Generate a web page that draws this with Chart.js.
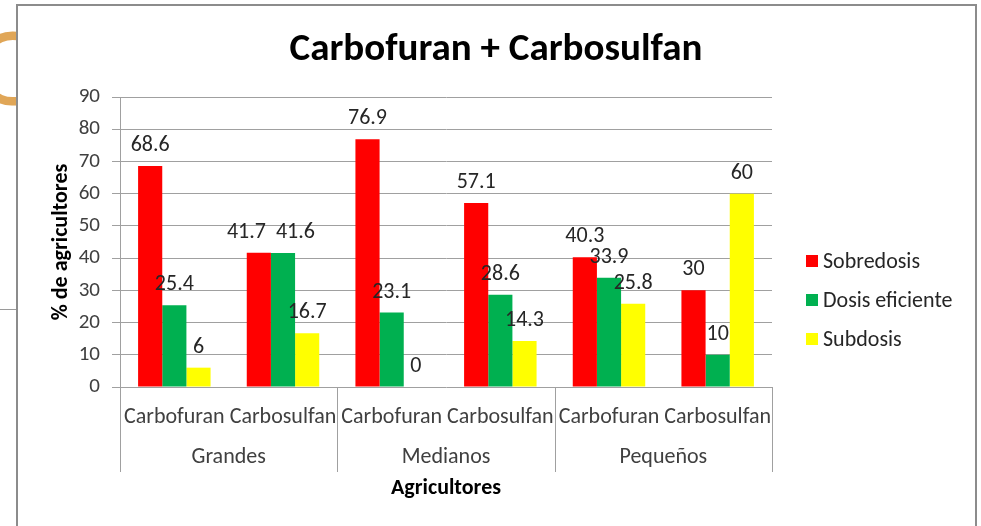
<!DOCTYPE html>
<html>
<head>
<meta charset="utf-8">
<script src="https://cdn.jsdelivr.net/npm/chart.js@4.4.0/dist/chart.umd.min.js"></script>
<style>
  body { margin: 0; width: 981px; height: 526px; overflow: hidden; background: #fff; position: relative; }
  /* background slide bits peeking out round the chart */
  .slide-c { position: absolute; left: -27px; top: 16px; font: 400 100px Lato, sans-serif; line-height: 1; color: #e0a657; }
  .slide-line { position: absolute; left: 0; top: 309px; width: 18px; height: 1px; background: #9a9a9a; }
  .chart-box { position: absolute; left: 16px; top: 4px; width: 957px; height: 560px; background: #fff; border: 2px solid #8c8c8c; }
  #chart { position: absolute; left: 0; top: 0; }
</style>
</head>
<body>
<div class="slide-c">C</div>
<div class="slide-line"></div>
<div class="chart-box"></div>
<canvas id="chart" width="981" height="526"></canvas>
<script>
const categories = ['Carbofuran', 'Carbosulfan', 'Carbofuran', 'Carbosulfan', 'Carbofuran', 'Carbosulfan'];
const groups = ['Grandes', 'Medianos', 'Pequeños'];
const sobredosis = [68.6, 41.7, 76.9, 57.1, 40.3, 30];
const dosisEficiente = [25.4, 41.6, 23.1, 28.6, 33.9, 10];
const subdosis = [6, 16.7, 0, 14.3, 25.8, 60];
const seriesNames = ['Sobredosis', 'Dosis eficiente', 'Subdosis'];
const seriesColors = ['#ff0000', '#00b050', '#ffff00'];

const FONT = 'Carlito, Calibri, Lato, sans-serif';
const SIZE = 22;
const GRID = '#a0a0a0';

// titles, data labels, two-level category axis and legend
const extras = {
  id: 'extras',
  afterDraw(chart) {
    const ctx = chart.ctx;
    const xs = chart.scales.x;
    const area = chart.chartArea;
    ctx.save();

    // title
    ctx.fillStyle = '#000';
    ctx.font = 'bold 39px ' + FONT;
    ctx.textAlign = 'center';
    ctx.textBaseline = 'alphabetic';
    ctx.fillText('Carbofuran + Carbosulfan', 496, 60);

    // value labels above bars, pushed apart where two of them collide
    ctx.font = SIZE + 'px ' + FONT;
    ctx.fillStyle = '#262626';
    const n = chart.data.labels.length;
    for (let j = 0; j < n; j++) {
      const labels = chart.data.datasets.map((ds, i) => {
        const bar = chart.getDatasetMeta(i).data[j];
        const text = String(ds.data[j]);
        return { text, x: bar.x, y: bar.y - 15, w: ctx.measureText(text).width };
      });
      for (let k = 0; k < labels.length - 1; k++) {
        const a = labels[k], b = labels[k + 1];
        const overlap = (a.w + b.w) / 2 + 10 - (b.x - a.x);
        if (Math.abs(a.y - b.y) < 16 && overlap > 0) {
          a.x -= overlap / 2;
          b.x += overlap / 2;
        }
      }
      labels.forEach(l => ctx.fillText(l.text, l.x, l.y));
    }

    // group separators + group labels
    ctx.strokeStyle = GRID;
    ctx.lineWidth = 1;
    const step = xs.getPixelForValue(1) - xs.getPixelForValue(0);
    for (let g = 0; g <= groups.length; g++) {
      const x = Math.round(xs.getPixelForValue(g * 2) - step / 2) + 0.5;
      ctx.beginPath();
      ctx.moveTo(x, area.bottom);
      ctx.lineTo(x, area.bottom + 85);
      ctx.stroke();
    }
    ctx.fillStyle = '#404040';
    groups.forEach((name, g) => {
      const x = (xs.getPixelForValue(g * 2) + xs.getPixelForValue(g * 2 + 1)) / 2;
      ctx.fillText(name, x, 463);
    });

    // axis titles
    ctx.fillStyle = '#000';
    ctx.font = 'bold ' + SIZE + 'px ' + FONT;
    ctx.fillText('Agricultores', (area.left + area.right) / 2, 494);
    ctx.save();
    ctx.translate(67, (area.top + area.bottom) / 2);
    ctx.rotate(-Math.PI / 2);
    ctx.fillText('% de agricultores', 0, 0);
    ctx.restore();

    // legend
    ctx.font = SIZE + 'px ' + FONT;
    ctx.textAlign = 'left';
    ctx.textBaseline = 'middle';
    seriesNames.forEach((name, i) => {
      const y = 261 + i * 39;
      ctx.fillStyle = seriesColors[i];
      ctx.fillRect(806, y - 6, 12, 12);
      ctx.fillStyle = '#262626';
      ctx.fillText(name, 823, y + 1);
    });
    ctx.restore();
  }
};

new Chart(document.getElementById('chart'), {
  type: 'bar',
  data: {
    labels: categories,
    datasets: seriesNames.map((name, i) => ({
      label: name,
      data: [sobredosis, dosisEficiente, subdosis][i],
      backgroundColor: seriesColors[i],
      categoryPercentage: 0.667,
      barPercentage: 1.0
    }))
  },
  options: {
    responsive: false,
    animation: false,
    layout: { padding: { left: 0, top: 97, right: 209, bottom: 0 } },
    plugins: { legend: { display: false }, tooltip: { enabled: false } },
    scales: {
      x: {
        grid: { display: false },
        border: { display: false },
        ticks: { font: { family: FONT, size: SIZE }, color: '#404040', padding: 9, autoSkip: false, maxRotation: 0 },
        afterFit: s => { s.height = 139; }
      },
      y: {
        min: 0,
        max: 90,
        ticks: { stepSize: 10, font: { family: FONT, size: 21 }, color: '#404040', padding: 12 },
        grid: { color: GRID, tickLength: 8, tickColor: GRID },
        border: { color: GRID },
        afterFit: s => { s.width = 120; }
      }
    }
  },
  plugins: [extras]
});
</script>
</body>
</html>
